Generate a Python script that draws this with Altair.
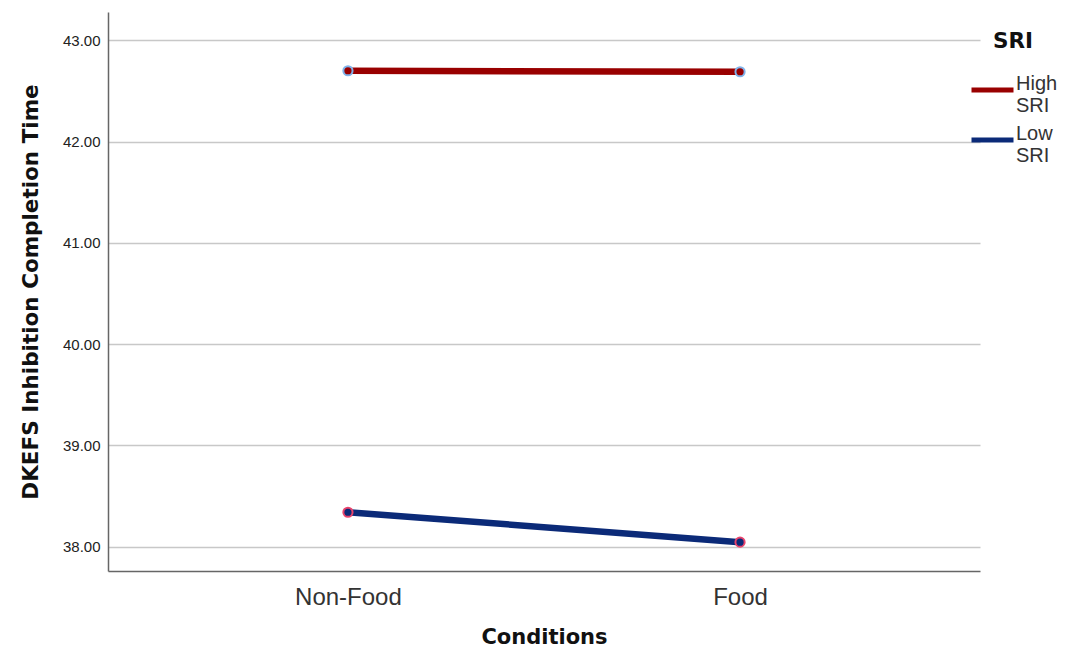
import altair as alt
import pandas as pd

conditions = ["Non-Food", "Food"]
groups = ["High SRI", "Low SRI"]
high_values = [42.70, 42.69]
low_values = [38.34, 38.045]
y_ticks = [38, 39, 40, 41, 42, 43]

rows = []
for c, v in zip(conditions, high_values):
    rows.append({"Conditions": c, "SRI": "High SRI", "value": v})
for c, v in zip(conditions, low_values):
    rows.append({"Conditions": c, "SRI": "Low SRI", "value": v})
df = pd.DataFrame(rows)

FONT = "Liberation Sans"
BOLD = "DejaVu Sans"

x = alt.X("Conditions:N", sort=conditions,
          scale=alt.Scale(type="point", padding=0.612),
          axis=alt.Axis(title="Conditions", labelAngle=0, ticks=False,
                        labelFontSize=24, labelColor="#333333", labelPadding=14,
                        titleFontSize=21, titleFontWeight="bold", titleColor="#111111",
                        titlePadding=17, domainColor="#666666", domainWidth=1.5,
                        grid=False, labelFont=FONT, titleFont=BOLD))
y = alt.Y("value:Q",
          scale=alt.Scale(domain=[37.76, 43.28], nice=False, zero=False),
          axis=alt.Axis(title="DKEFS Inhibition Completion Time", values=y_ticks,
                        format=".2f", ticks=False, labelFontSize=15, labelColor="#222222",
                        labelPadding=8, titleFontSize=21.5, titleFontWeight="bold",
                        titleColor="#111111", titlePadding=20, domainColor="#666666",
                        domainWidth=1.5, gridColor="#c8c8c8", gridWidth=1.5,
                        labelFont=FONT, titleFont=BOLD))

color = alt.Color("SRI:N", sort=groups,
                  scale=alt.Scale(domain=groups, range=["#990000", "#0b2a78"]),
                  legend=alt.Legend(title="SRI", orient="none", legendX=861, legendY=19,
                                    symbolType="stroke", symbolSize=1764,
                                    symbolStrokeWidth=5, titleAnchor="middle",
                                    titleFontSize=21.5, titleFontWeight="bold",
                                    titleColor="#111111", titlePadding=14,
                                    labelFontSize=20, labelColor="#333333",
                                    labelLimit=200, labelBaseline="alphabetic",
                                    labelOffset=0, rowPadding=-11, padding=0,
                                    labelExpr="split(datum.label, ' ')",
                                    labelFont=FONT, titleFont=BOLD))

lines = alt.Chart(df).mark_line(strokeWidth=6.5).encode(x=x, y=y, color=color)
points = alt.Chart(df).mark_point(filled=True, size=85, strokeWidth=2, opacity=1).encode(
    x=x, y=y, color=color,
    stroke=alt.Stroke("SRI:N", scale=alt.Scale(domain=groups, range=["#7fb2ea", "#e8436c"]),
                      legend=None))

chart = alt.layer(lines, points).properties(
    width=872, height=559,
    background="white",
    autosize=alt.AutoSizeParams(type="none"),
    padding={"left": 100, "top": 4, "right": 79, "bottom": 77},
).configure_view(stroke=None, strokeWidth=0)

chart.save("out.html", embed_options={"renderer": "svg", "actions": False})
